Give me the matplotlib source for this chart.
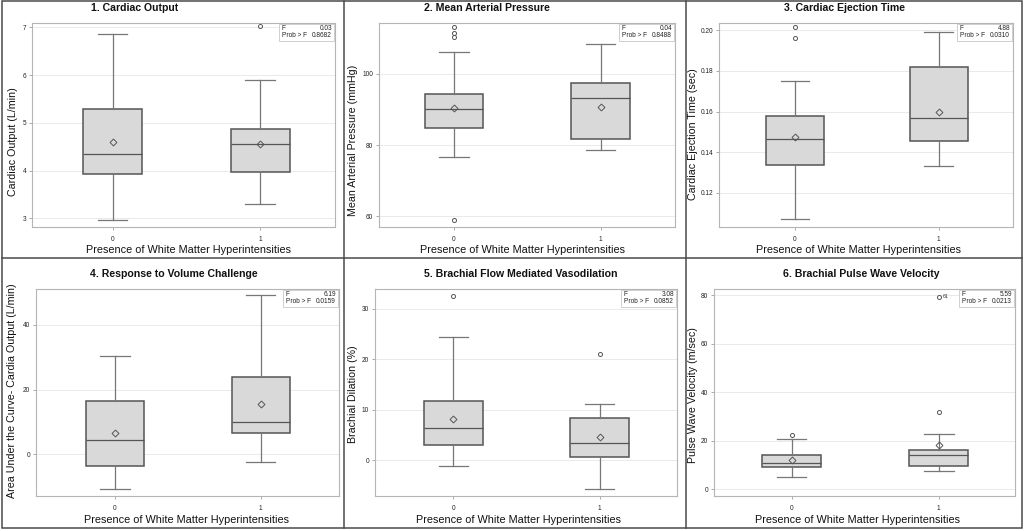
import matplotlib
matplotlib.use('Agg')
import matplotlib.pyplot as plt
from matplotlib.patches import Rectangle
from matplotlib.lines import Line2D

plt.rcParams['font.family'] = ['Liberation Sans', 'DejaVu Sans']

# ---------------- data ----------------
groups = ['0', '1']
titles = ['1. Cardiac Output', '2. Mean Arterial Pressure', '3. Cardiac Ejection Time',
          '4. Response to Volume Challenge', '5. Brachial Flow Mediated Vasodilation',
          '6. Brachial Pulse Wave Velocity']
ylabels = ['Cardiac Output (L/min)', 'Mean Arterial Pressure (mmHg)', 'Cardiac Ejection Time (sec)',
           'Area Under the Curve- Cardia Output (L/min)', 'Brachial Dilation (%)',
           'Pulse Wave Velocity (m/sec)']
xlabel = 'Presence of White Matter Hyperintensities'
f_values = ['0.03', '0.04', '4.88', '6.19', '3.08', '5.59']
p_values = ['0.8682', '0.8488', '0.0310', '0.0159', '0.0852', '0.0213']

whislo = [[2.96, 3.31], [76.6, 78.6], [0.1070, 0.1333], [-10.7, -2.2], [-1.1, -5.8], [5.1, 7.6]]
q1 = [[3.92, 3.97], [84.8, 81.8], [0.1335, 0.1457], [-3.4, 6.5], [3.1, 0.7], [9.0, 9.4]]
med = [[4.35, 4.55], [90.2, 93.1], [0.1465, 0.1570], [4.4, 10.0], [6.4, 3.3], [10.7, 13.9]]
q3 = [[5.30, 4.88], [94.3, 97.4], [0.1576, 0.1819], [16.5, 23.8], [11.7, 8.3], [14.0, 16.0]]
whishi = [[6.86, 5.90], [106.2, 108.3], [0.1752, 0.1992], [30.5, 49.3], [24.4, 11.2], [20.5, 22.6]]
means = [[4.60, 4.56], [90.3, 90.7], [0.1474, 0.1598], [6.5, 15.6], [8.2, 4.6], [11.9, 18.2]]
fliers = [[[], [7.02]],
          [[113.3, 111.5, 110.4, 59.0], []],
          [[0.2018, 0.1962], []],
          [[], []],
          [[32.6], [21.1]],
          [[22.5], [79.3, 31.8]]]
flier_labels = [None, None, None, None, None, (1, 79.3, '61')]

ylims = [(2.82, 7.09), (57.0, 114.3), (0.1031, 0.2036), (-12.8, 51.0), (-7.1, 33.9), (-2.8, 82.5)]
yticks = [[3, 4, 5, 6, 7], [60, 80, 100], [0.12, 0.14, 0.16, 0.18, 0.20],
          [0, 20, 40], [0, 10, 20, 30], [0, 20, 40, 60, 80]]
ytick_labels = [[str(v) for v in yticks[0]], [str(v) for v in yticks[1]],
                ['%.2f' % v for v in yticks[2]], [str(v) for v in yticks[3]],
                [str(v) for v in yticks[4]], [str(v) for v in yticks[5]]]

# ---------------- layout (pixels) ----------------
W, H = 1024, 531
axes_px = [(32, 23, 335, 227), (379, 23, 675, 227), (719, 23, 1013, 227),
           (36, 289, 339, 496), (375, 289, 677, 496), (714, 289, 1015, 496)]
centers_px = [(112.5, 260), (454, 600.5), (795, 938.8), (115, 260.8), (453.3, 599.7), (791.7, 938.8)]
title_px = [(135, 8), (487, 8), (844, 8), (174, 274), (520.5, 274), (861, 274)]
xlabel_px = [(189, 250), (522, 250), (858, 250), (187, 520), (519, 520), (857.5, 520)]
ylabel_px = [(13, 141.5), (353, 140.7), (693, 134), (12, 390.5), (353, 394), (693, 395.5)]

fig = plt.figure(figsize=(W / 100, H / 100), dpi=100)

def fx(x):
    return x / W

def fy(y):
    return 1 - y / H

box_face = '#d9d9d9'
box_edge = '#555555'
whisk_col = '#777777'

for i in range(6):
    l, t, r, b = axes_px[i]
    ax = fig.add_axes([fx(l), fy(b), (r - l) / W, (b - t) / H])
    c0, c1 = centers_px[i]
    sp = c1 - c0
    ax.set_xlim((l - c0) / sp, (r - c0) / sp)
    ax.set_ylim(*ylims[i])

    stats = []
    for g in range(2):
        stats.append(dict(med=med[i][g], q1=q1[i][g], q3=q3[i][g],
                          whislo=whislo[i][g], whishi=whishi[i][g],
                          mean=means[i][g], fliers=fliers[i][g], label=groups[g]))
    ax.bxp(stats, positions=[0, 1], widths=0.4, patch_artist=True,
           showmeans=True, shownotches=False,
           boxprops=dict(facecolor=box_face, edgecolor=box_edge, linewidth=1.1),
           medianprops=dict(color=box_edge, linewidth=0.9),
           whiskerprops=dict(color=whisk_col, linewidth=0.9),
           capprops=dict(color=whisk_col, linewidth=0.9),
           meanprops=dict(marker='D', markerfacecolor='none', markeredgecolor='#555555',
                          markersize=3.5, markeredgewidth=0.7),
           flierprops=dict(marker='o', markerfacecolor='none', markeredgecolor='#555555',
                           markersize=2.9, markeredgewidth=0.7))
    if flier_labels[i] is not None:
        gx, gy, txt = flier_labels[i]
        ax.annotate(txt, (gx, gy), xytext=(3, 0), textcoords='offset points',
                    fontsize=3.8, va='center', ha='left', color='#333333')

    ax.set_yticks(yticks[i])
    ax.set_yticklabels(ytick_labels[i])
    ax.set_xticks([0, 1])
    ax.set_xticklabels(groups)
    ax.tick_params(axis='both', labelsize=4.7, length=2.2, width=0.5,
                   color='#888888', labelcolor='#222222', pad=2)
    ax.tick_params(axis='x', pad=4)
    ax.grid(axis='y', color='#e6e6e6', linewidth=0.6)
    ax.set_axisbelow(True)
    for s in ax.spines.values():
        s.set_color('#b5b5b5')
        s.set_linewidth(0.8)

    # stats inset box (pixel-based)
    bw, bh = 55, 17
    bx0 = r - 1 - bw
    by0 = t + 1
    fig.patches.append(Rectangle((fx(bx0), fy(by0 + bh)), bw / W, bh / H,
                                 transform=fig.transFigure, facecolor='white',
                                 edgecolor='#c8c8c8', linewidth=0.6, zorder=5))
    fs = 4.7
    fig.text(fx(bx0 + 2.5), fy(by0 + 4.6), 'F', fontsize=fs, va='center', ha='left',
             color='#222222', zorder=6)
    fig.text(fx(bx0 + bw - 2), fy(by0 + 4.6), f_values[i], fontsize=fs, va='center',
             ha='right', color='#222222', zorder=6)
    fig.text(fx(bx0 + 2.5), fy(by0 + 11.8), 'Prob > F', fontsize=fs, va='center',
             ha='left', color='#222222', zorder=6)
    fig.text(fx(bx0 + bw - 2), fy(by0 + 11.8), p_values[i], fontsize=fs, va='center',
             ha='right', color='#222222', zorder=6)

    tx, ty = title_px[i]
    fig.text(fx(tx), fy(ty), titles[i], fontsize=7.6, fontweight='bold',
             ha='center', va='center', color='#111111')
    xx, xy = xlabel_px[i]
    fig.text(fx(xx), fy(xy), xlabel, fontsize=7.8, ha='center', va='center',
             color='#111111')
    yx, yy = ylabel_px[i]
    fig.text(fx(yx), fy(yy), ylabels[i], fontsize=7.7, ha='center', va='center',
             rotation=90, color='#111111')

# panel dividers and outer border
div_col = '#4a4a4a'
for x in (344, 686):
    fig.add_artist(Line2D([fx(x), fx(x)], [fy(1), fy(528)], transform=fig.transFigure,
                          color=div_col, linewidth=1.1))
fig.add_artist(Line2D([fx(2), fx(1022)], [fy(258), fy(258)], transform=fig.transFigure,
                      color=div_col, linewidth=1.1))
fig.add_artist(Rectangle((fx(2), fy(528)), 1020 / W, 527 / H, transform=fig.transFigure,
                         facecolor='none', edgecolor=div_col, linewidth=1.1))

fig.savefig('out.png', dpi=100, facecolor='white')
